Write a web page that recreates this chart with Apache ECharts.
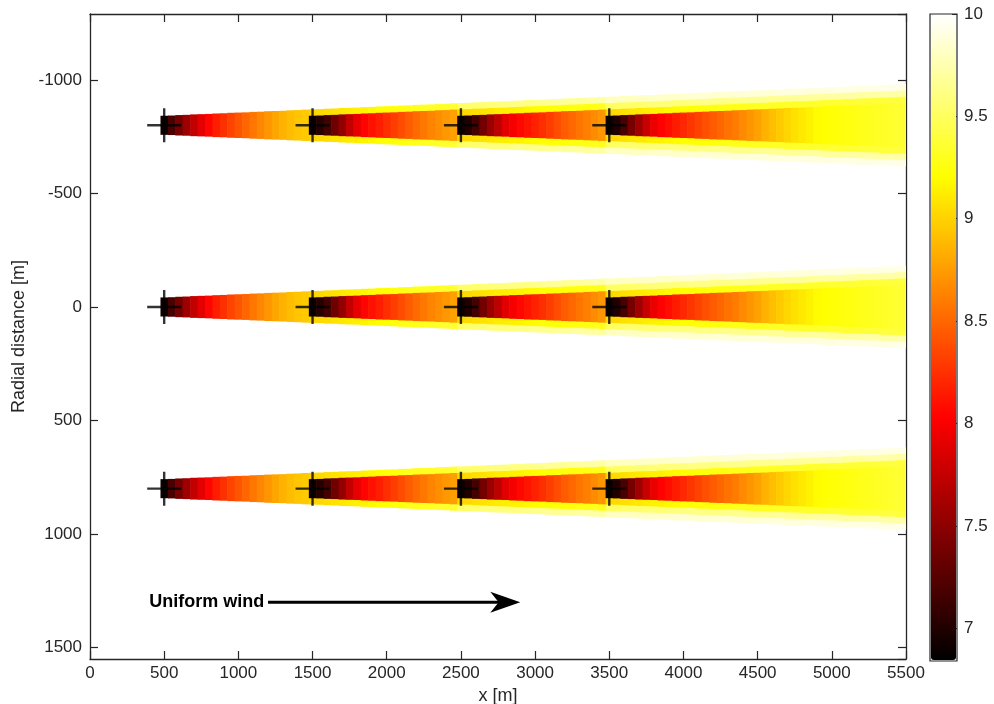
<!DOCTYPE html>
<html>
<head>
<meta charset="utf-8">
<title>Wind farm wake</title>
<script src="https://cdn.jsdelivr.net/npm/echarts@6/dist/echarts.min.js"></script>
<style>
  html, body { margin: 0; padding: 0; background: #fff; }
  #chart { width: 994px; height: 704px; }
</style>
</head>
<body>
<div id="chart"></div>
<script>
// turbine layout
const turbineX = [500, 1500, 2500, 3500];
const rowY = [-800, 0, 800];

// wake strips: centre of each 50 m strip along x
const gridX = [500, 550, 600, 650, 700, 750, 800, 850, 900, 950,
  1000, 1050, 1100, 1150, 1200, 1250, 1300, 1350, 1400, 1450,
  1500, 1550, 1600, 1650, 1700, 1750, 1800, 1850, 1900, 1950,
  2000, 2050, 2100, 2150, 2200, 2250, 2300, 2350, 2400, 2450,
  2500, 2550, 2600, 2650, 2700, 2750, 2800, 2850, 2900, 2950,
  3000, 3050, 3100, 3150, 3200, 3250, 3300, 3350, 3400, 3450,
  3500, 3550, 3600, 3650, 3700, 3750, 3800, 3850, 3900, 3950,
  4000, 4050, 4100, 4150, 4200, 4250, 4300, 4350, 4400, 4450,
  4500, 4550, 4600, 4650, 4700, 4750, 4800, 4850, 4900, 4950,
  5000, 5050, 5100, 5150, 5200, 5250, 5300, 5350, 5400, 5450, 5500];

// wake half width [m] vs distance behind a turbine (0, 50, ... 5000 m)
const wakeHalfWidth = [42, 43, 45, 46, 48, 49, 50, 52, 53, 55,
  56, 57, 59, 60, 62, 63, 64, 66, 67, 69,
  70, 71, 73, 74, 76, 77, 78, 80, 81, 83,
  84, 85, 87, 88, 90, 91, 92, 94, 95, 97,
  98, 99, 101, 102, 104, 105, 106, 108, 109, 111,
  112, 113, 115, 116, 118, 119, 120, 122, 123, 125,
  126, 127, 129, 130, 132, 133, 134, 136, 137, 139,
  140, 141, 143, 144, 146, 147, 148, 150, 151, 153,
  154, 155, 157, 158, 160, 161, 162, 164, 165, 167,
  168, 169, 171, 172, 174, 175, 176, 178, 179, 181, 182];

// wind speed [m/s] seen in each turbine's wake band (outside the next turbine's wake)
const wake1Speed = [6.90, 7.19, 7.39, 7.57, 7.74, 7.90, 8.05, 8.16, 8.25, 8.34,
  8.42, 8.50, 8.58, 8.65, 8.72, 8.79, 8.85, 8.90, 8.94, 8.97,
  9.00, 9.03, 9.05, 9.08, 9.10, 9.12, 9.14, 9.16, 9.18, 9.20,
  9.22, 9.24, 9.26, 9.28, 9.29, 9.31, 9.32, 9.34, 9.35, 9.36,
  9.52, 9.54, 9.55, 9.57, 9.58, 9.59, 9.60, 9.61, 9.62, 9.63,
  9.64, 9.65, 9.66, 9.67, 9.68, 9.69, 9.70, 9.71, 9.72, 9.72,
  9.80, 9.80, 9.81, 9.81, 9.82, 9.82, 9.83, 9.83, 9.84, 9.84,
  9.85, 9.85, 9.85, 9.86, 9.86, 9.86, 9.87, 9.87, 9.87, 9.88,
  9.88, 9.88, 9.88, 9.89, 9.89, 9.89, 9.89, 9.90, 9.90, 9.90,
  9.90, 9.91, 9.91, 9.91, 9.91, 9.92, 9.92, 9.92, 9.92, 9.93, 9.93];
const wake2Speed = [6.90, 7.02, 7.16, 7.35, 7.53, 7.74, 7.92, 8.04, 8.10, 8.17,
  8.24, 8.31, 8.38, 8.45, 8.52, 8.58, 8.64, 8.68, 8.73, 8.77,
  9.02, 9.04, 9.06, 9.08, 9.10, 9.12, 9.13, 9.15, 9.16, 9.18,
  9.19, 9.21, 9.22, 9.23, 9.24, 9.25, 9.26, 9.27, 9.28, 9.29,
  9.50, 9.51, 9.53, 9.54, 9.55, 9.56, 9.57, 9.58, 9.59, 9.59,
  9.60, 9.61, 9.61, 9.62, 9.62, 9.63, 9.63, 9.64, 9.64, 9.65,
  9.65, 9.66, 9.66, 9.67, 9.67, 9.68, 9.68, 9.69, 9.69, 9.70,
  9.70, 9.70, 9.71, 9.71, 9.71, 9.72, 9.72, 9.72, 9.73, 9.73, 9.73];
const wake3Speed = [6.90, 7.00, 7.16, 7.37, 7.56, 7.72, 7.89, 7.99, 8.06, 8.12,
  8.18, 8.24, 8.31, 8.38, 8.45, 8.51, 8.57, 8.62, 8.67, 8.72,
  9.02, 9.04, 9.07, 9.09, 9.11, 9.13, 9.15, 9.16, 9.18, 9.19,
  9.21, 9.22, 9.23, 9.24, 9.25, 9.26, 9.27, 9.28, 9.29, 9.30,
  9.31, 9.31, 9.32, 9.32, 9.33, 9.33, 9.34, 9.34, 9.35, 9.35,
  9.36, 9.36, 9.37, 9.37, 9.38, 9.38, 9.39, 9.39, 9.40, 9.40, 9.41];
const wake4Speed = [6.90, 7.00, 7.18, 7.39, 7.58, 7.77, 7.93, 8.03, 8.09, 8.15,
  8.21, 8.27, 8.33, 8.39, 8.45, 8.50, 8.55, 8.60, 8.66, 8.72,
  8.78, 8.85, 8.91, 8.97, 9.02, 9.07, 9.11, 9.15, 9.19, 9.21,
  9.23, 9.24, 9.26, 9.27, 9.29, 9.30, 9.32, 9.33, 9.35, 9.36, 9.38];

const speedMin = 6.84, speedMax = 10;

// annotation: text x, arrow start x, arrow end x, y
const windNote = [400, 1200, 2900, 1300];

const hot = ['#000000', '#550000', '#aa0000', '#ff0000', '#ff5500', '#ffaa00', '#ffff00', '#ffff80', '#ffffff'];
const axisColor = '#262626';
const font = 'Liberation Sans, Arial, Helvetica, sans-serif';

// build strip data: widest (oldest) wake first, newer wakes drawn on top
const wakes = [wake1Speed, wake2Speed, wake3Speed, wake4Speed];
const step = gridX[1] - gridX[0];
const strips = [];
rowY.forEach(yc => {
  turbineX.forEach((tx, j) => {
    const start = gridX.indexOf(tx);
    wakes[j].forEach((v, d) => {
      const xc = gridX[start + d];
      strips.push([xc - step / 2, xc + step / 2, yc, wakeHalfWidth[d], v]);
    });
  });
});

const turbines = [];
rowY.forEach(y => turbineX.forEach(x => turbines.push([x, y])));

const chart = echarts.init(document.getElementById('chart'));

const plainFmt = v => String(v);
const tickStyle = { inside: true, length: 8, lineStyle: { color: axisColor, width: 1.2 } };
const lineStyle = { onZero: false, lineStyle: { color: axisColor, width: 1.3 } };

chart.setOption({
  animation: false,
  backgroundColor: '#fff',
  textStyle: { fontFamily: font, color: axisColor },
  grid: [
    { left: 90, right: 88, top: 14, bottom: 45, outerBoundsMode: 'none', containLabel: false },
    { left: 930, top: 14, width: 27, height: 647, outerBoundsMode: 'none', show: true, borderColor: axisColor, borderWidth: 1.2, backgroundColor: 'transparent' }
  ],
  xAxis: [
    {
      type: 'value', gridIndex: 0, min: 0, max: 5500, interval: 500,
      name: 'x [m]', nameLocation: 'middle', nameGap: 20,
      nameTextStyle: { fontSize: 18, color: axisColor, fontFamily: font },
      axisLine: lineStyle, axisTick: tickStyle,
      axisLabel: { fontSize: 17, color: axisColor, margin: 6, fontFamily: font, formatter: plainFmt },
      splitLine: { show: false }
    },
    {
      type: 'value', gridIndex: 0, position: 'top', min: 0, max: 5500, interval: 500,
      axisLine: lineStyle, axisTick: tickStyle,
      axisLabel: { show: false }, splitLine: { show: false }
    },
    { type: 'value', gridIndex: 1, min: 0, max: 1, show: false }
  ],
  yAxis: [
    {
      type: 'value', gridIndex: 0, inverse: true, min: -1290, max: 1550,
      name: 'Radial distance [m]', nameLocation: 'middle', nameGap: 60,
      nameTextStyle: { fontSize: 18, color: axisColor, fontFamily: font },
      axisLine: lineStyle, axisTick: tickStyle,
      axisLabel: { fontSize: 17, color: axisColor, margin: 8, fontFamily: font, formatter: plainFmt, showMinLabel: false, showMaxLabel: false },
      splitLine: { show: false }
    },
    {
      type: 'value', gridIndex: 0, position: 'right', inverse: true, min: -1290, max: 1550,
      axisLine: lineStyle, axisTick: tickStyle,
      axisLabel: { show: false }, splitLine: { show: false }
    },
    {
      type: 'value', gridIndex: 1, position: 'right', min: speedMin, max: speedMax,
      axisLine: { show: false, onZero: false },
      axisTick: { inside: true, length: 5, lineStyle: { color: axisColor } },
      axisLabel: { fontSize: 17, color: axisColor, margin: 7, fontFamily: font, showMinLabel: false },
      splitLine: { show: false }
    }
  ],
  visualMap: {
    type: 'continuous', seriesIndex: 0, dimension: 4,
    min: speedMin, max: speedMax, calculable: false, hoverLink: false,
    orient: 'vertical', left: 931, top: 15, itemWidth: 25, itemHeight: 645,
    padding: 0, text: null,
    inRange: { color: hot }
  },
  series: [
    {
      type: 'custom', name: 'wake', silent: true, clip: true,
      encode: { x: [0, 1], y: 2 },
      data: strips,
      renderItem(params, api) {
        const yc = api.value(2), hw = api.value(3);
        const p0 = api.coord([api.value(0), yc - hw]);
        const p1 = api.coord([api.value(1), yc + hw]);
        return {
          type: 'rect',
          shape: {
            x: Math.min(p0[0], p1[0]), y: Math.min(p0[1], p1[1]),
            width: Math.abs(p1[0] - p0[0]) + 0.6, height: Math.abs(p1[1] - p0[1])
          },
          style: { fill: api.visual('color') }
        };
      }
    },
    {
      type: 'scatter', name: 'turbines', silent: true, z: 5,
      data: turbines,
      symbol: 'path://M-1.2,-17L1.2,-17L1.2,17L-1.2,17Z M-17,-1.2L17,-1.2L17,1.2L-17,1.2Z',
      symbolSize: 34,
      itemStyle: { color: '#000' }
    },
    {
      type: 'custom', name: 'wind', silent: true, z: 6,
      data: [windNote],
      encode: { x: [0, 2], y: 3 },
      renderItem(params, api) {
        const y = api.value(3);
        const t = api.coord([api.value(0), y]);
        const a = api.coord([api.value(1), y]);
        const b = api.coord([api.value(2), y]);
        const head = 30, half = 10.5;
        return {
          type: 'group',
          children: [
            { type: 'line', shape: { x1: a[0], y1: a[1], x2: b[0] - head * 0.7, y2: b[1] }, style: { stroke: '#000', lineWidth: 3 } },
            { type: 'polygon', shape: { points: [[b[0], b[1]], [b[0] - head, b[1] - half], [b[0] - head * 0.72, b[1]], [b[0] - head, b[1] + half]] }, style: { fill: '#000' } },
            { type: 'text', x: t[0], y: t[1], style: { text: 'Uniform wind', font: 'bold 18px ' + font, fill: '#000', verticalAlign: 'middle', align: 'left' } }
          ]
        };
      }
    }
  ]
});
</script>
</body>
</html>
